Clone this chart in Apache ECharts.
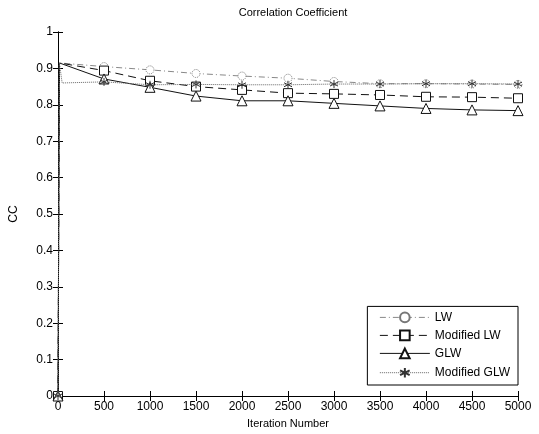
<!DOCTYPE html>
<html>
<head>
<meta charset="utf-8">
<script src="https://cdn.jsdelivr.net/npm/echarts@6/dist/echarts.min.js"></script>
<style>
  html, body { margin: 0; padding: 0; background: #fff; }
  #chart { width: 539px; height: 434px; }
</style>
</head>
<body>
<div id="chart"></div>
<script>
// iterations carrying a marker
const markIters = [0, 500, 1000, 1500, 2000, 2500, 3000, 3500, 4000, 4500, 5000];
// first iterations after the start (no marker)
const peakIter = 15;
const peakValue = 0.915;
const modGlwDipIter = 45;
const modGlwDipValue = 0.86;

const lwValues     = [0, 0.905, 0.896, 0.886, 0.879, 0.873, 0.864, 0.858, 0.858, 0.857, 0.856];
const modLwValues  = [0, 0.894, 0.866, 0.850, 0.841, 0.832, 0.830, 0.827, 0.822, 0.821, 0.818];
const glwValues    = [0, 0.871, 0.848, 0.824, 0.811, 0.811, 0.804, 0.797, 0.790, 0.786, 0.784];
const modGlwValues = [0, 0.863, 0.855, 0.856, 0.855, 0.855, 0.857, 0.857, 0.858, 0.858, 0.857];

const seriesNames = ['LW', 'Modified LW', 'GLW', 'Modified GLW'];

// build [x, y] points, extra points get no marker
function buildData(values, extra) {
  const pts = [[markIters[0], values[0]]];
  extra.forEach(p => pts.push({ value: p, symbol: 'none' }));
  for (let i = 1; i < markIters.length; i++) pts.push([markIters[i], values[i]]);
  return pts;
}

const asterisk = 'path://M5,0L5,10M0.7,2.5L9.3,7.5M0.7,7.5L9.3,2.5';

const chart = echarts.init(document.getElementById('chart'));
const font = 'Liberation Sans, Arial, sans-serif';

chart.setOption({
  animation: false,
  title: {
    text: 'Correlation Coefficient',
    left: 288,
    top: 2,
    textAlign: 'center',
    textStyle: { fontSize: 11, fontWeight: 'normal', color: '#000', fontFamily: font }
  },
  grid: { left: 58, right: 21, top: 32, bottom: 38 },
  legend: {
    right: 21,
    bottom: 49,
    orient: 'vertical',
    backgroundColor: '#fff',
    borderColor: '#000',
    borderWidth: 1,
    padding: [5, 8, 5, 12],
    itemGap: 6,
    itemWidth: 50,
    itemHeight: 12,
    lineStyle: { width: 1 },
    textStyle: { fontSize: 12, color: '#000', fontFamily: font },
    data: seriesNames
  },
  xAxis: [{
    type: 'value',
    min: 0, max: 5000, interval: 500,
    name: 'Iteration Number',
    nameLocation: 'middle',
    nameGap: 22,
    nameTextStyle: { fontSize: 11, color: '#000', fontFamily: font },
    axisLine: { lineStyle: { color: '#000' } },
    axisTick: { inside: true, length: 5, lineStyle: { color: '#000' } },
    axisLabel: { fontSize: 12, color: '#000', margin: 5, fontFamily: font, formatter: v => String(v) },
    splitLine: { show: false }
  }, {
    type: 'value', position: 'top',
    min: 0, max: 5000, interval: 500,
    axisLine: { show: true, lineStyle: { color: '#000' } },
    axisTick: { inside: true, length: 5, lineStyle: { color: '#000' } },
    axisLabel: { show: false },
    splitLine: { show: false }
  }],
  yAxis: [{
    type: 'value',
    min: 0, max: 1, interval: 0.1,
    name: 'CC',
    nameLocation: 'middle',
    nameGap: 38,
    nameTextStyle: { fontSize: 12, color: '#000', fontFamily: font },
    axisLine: { show: true, lineStyle: { color: '#000' } },
    axisTick: { show: true, inside: true, length: 5, lineStyle: { color: '#000' } },
    axisLabel: { fontSize: 12, color: '#000', margin: 5, fontFamily: font },
    splitLine: { show: false }
  }, {
    type: 'value', position: 'right',
    min: 0, max: 1, interval: 0.1,
    axisLine: { show: true, lineStyle: { color: '#000' } },
    axisTick: { show: true, inside: true, length: 5, lineStyle: { color: '#000' } },
    axisLabel: { show: false },
    splitLine: { show: false }
  }],
  series: [{
    name: seriesNames[0],
    type: 'line',
    data: buildData(lwValues, [[peakIter, peakValue]]),
    symbol: 'circle', symbolSize: 8,
    lineStyle: { color: '#888', width: 1, type: [6, 3, 1, 3] },
    itemStyle: { color: '#fff', borderColor: '#777', borderWidth: 1, borderType: 'dotted' },
    z: 2
  }, {
    name: seriesNames[1],
    type: 'line',
    data: buildData(modLwValues, [[peakIter, peakValue]]),
    symbol: 'rect', symbolSize: 9,
    lineStyle: { color: '#111', width: 1, type: [8, 5] },
    itemStyle: { color: '#fff', borderColor: '#111', borderWidth: 1 },
    z: 3
  }, {
    name: seriesNames[2],
    type: 'line',
    data: buildData(glwValues, [[peakIter, peakValue]]),
    symbol: 'triangle', symbolSize: 10,
    lineStyle: { color: '#111', width: 1 },
    itemStyle: { color: '#fff', borderColor: '#111', borderWidth: 1 },
    z: 3
  }, {
    name: seriesNames[3],
    type: 'line',
    data: buildData(modGlwValues, [[peakIter, peakValue], [modGlwDipIter, modGlwDipValue]]),
    symbol: asterisk, symbolSize: 8,
    lineStyle: { color: '#666', width: 1, type: 'dotted' },
    itemStyle: { color: 'none', borderColor: '#333', borderWidth: 1 },
    z: 4
  }]
});
</script>
</body>
</html>
